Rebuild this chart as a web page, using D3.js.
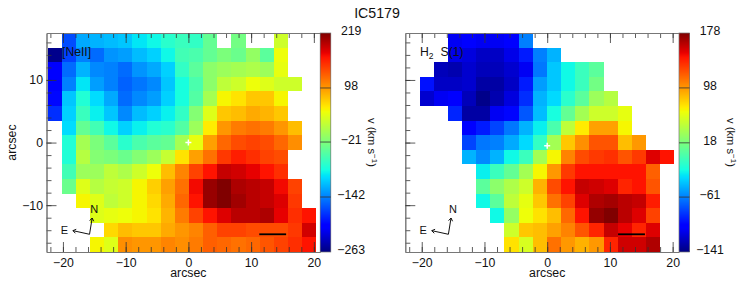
<!DOCTYPE html>
<html><head><meta charset="utf-8">
<style>html,body{margin:0;padding:0;background:#fff}svg{display:block}text{font-family:"Liberation Sans",sans-serif;fill:#111}</style>
<script src="https://cdn.jsdelivr.net/npm/d3@7/dist/d3.min.js"></script>
</head><body><svg id="c" width="747" height="285"></svg>
<script>
const title = "IC5179";
const xLabel = "arcsec", yLabel = "arcsec";
const neonTicks = [-263,-142,-21,98,219];
const h2Ticks = [-141,-61,18,98,178];
const _ = null;
// velocity maps, km/s, top row first
const neonVelocity = [
[_,-167,-123,-118,-114,-109,-94,-85,-70,-61,-65,-36,_,-27,_,_,26,_,_],
[-258,-171,-142,-152,-133,-128,-114,-104,-85,-56,-51,-36,-22,-32,-8,-41,45,_,_],
[-205,-152,-118,-138,-142,-152,-133,-123,-104,-65,-41,-12,-3,2,7,-3,41,_,_],
[-205,-142,-94,-128,-142,-157,-147,-138,-109,-80,-51,-12,17,26,45,36,26,26,_],
[-200,-109,-75,-99,-123,-152,-138,-128,-104,-80,-46,2,50,60,74,74,50,_,_],
[-181,-104,-61,-89,-109,-138,-114,-104,-89,-65,-17,36,74,79,89,84,74,_,_],
[_,-99,-36,-56,-85,-104,-89,-75,-70,-46,-3,55,99,113,118,113,99,79,_],
[_,-75,2,-22,-41,-70,-51,-41,-36,2,41,94,123,137,142,137,123,103,_],
[_,-75,12,-17,-22,-32,-17,-3,21,60,94,118,147,161,152,142,137,_,_],
[_,-56,-3,-3,17,7,26,45,79,108,142,166,190,185,176,166,152,_,_],
[_,-32,36,12,21,26,50,70,94,118,171,209,219,200,195,190,171,142,_],
[_,_,50,36,17,26,50,65,89,123,166,209,219,205,195,190,180,147,_],
[_,_,_,36,41,45,50,60,84,113,142,166,180,195,195,200,176,152,166],
[_,_,_,_,65,79,74,74,89,99,108,127,142,142,137,137,137,147,185],
[_,_,_,50,36,103,99,99,108,103,113,127,123,118,123,132,142,152,166]
];
const h2Velocity = [
[_,_,_,-109,-106,-109,-109,-103,-61,_,_,_,_,_,_,_,_,_,_],
[_,_,_,-112,-115,-122,-122,-112,-93,-61,-45,_,_,_,_,_,_,_,_],
[_,_,-125,-128,-119,-125,-125,-119,-109,-64,-39,-23,-7,6,_,_,_,_,_],
[_,-96,-122,-122,-119,-131,-131,-122,-93,-52,-39,-23,-7,15,_,_,_,_,_],
[_,-119,-109,-103,-125,-138,-128,-115,-87,-45,-33,-13,6,31,41,_,_,_,_],
[_,_,_,-90,-131,-131,-109,-100,-74,-42,-20,9,34,50,50,60,_,_,_],
[_,_,_,_,-106,-93,-80,-64,-45,-26,-1,44,70,95,95,66,_,_,_],
[_,_,_,_,-80,-64,-61,-48,-33,-10,34,82,101,121,121,85,98,_,_],
[_,_,_,_,-45,-58,-45,-23,-7,34,66,105,124,130,133,121,130,152,143],
[_,_,_,_,_,-26,-7,9,34,66,98,130,143,143,143,143,143,117,_],
[_,_,_,_,_,6,25,38,50,89,124,143,159,156,152,137,143,121,_],
[_,_,_,_,_,-23,6,44,60,82,111,127,152,165,168,162,159,140,_],
[_,_,_,_,_,_,-23,28,63,73,85,114,143,172,178,162,152,127,_],
[_,_,_,_,_,_,_,50,82,85,95,105,121,137,159,149,137,152,_],
[_,_,_,_,_,_,_,73,54,85,111,98,89,98,137,156,156,165,_]
];

const xDomain = [-22.62,20.98], yDomain = [17.5,-17.48];
const majorX = [-20,-10,0,10,20], minorX = d3.range(-22,21,2);
const majorY = [-10,0,10], minorY = d3.range(-16,17,2);
const cellW = 2.256, cellH = 2.332;

// jet colour table
const jetR = d3.scaleLinear().domain([0,.35,.66,.89,1]).range([0,0,1,1,.5]);
const jetG = d3.scaleLinear().domain([0,.125,.375,.64,.91,1]).range([0,0,1,1,0,0]);
const jetB = d3.scaleLinear().domain([0,.11,.34,.65,1]).range([.5,1,1,0,0]);
const jet = t => d3.rgb(jetR(t)*255,jetG(t)*255,jetB(t)*255).formatRgb();

const svg = d3.select("#c");
svg.append("text").attr("x",377).attr("y",18.3).attr("text-anchor","middle").style("font-size","14.2px").text(title);

function panel(o){
  const x = d3.scaleLinear().domain(xDomain).range(o.xr);
  const y = d3.scaleLinear().domain(yDomain).range([33,252]);
  const g = svg.append("g");
  const col = d3.scaleLinear().domain(d3.extent(o.ticks)).range([0,1]).clamp(true);
  const clipId = "clip"+o.xr[0];
  g.append("clipPath").attr("id",clipId).append("rect").attr("x",o.xr[0]).attr("y",33).attr("width",o.xr[1]-o.xr[0]).attr("height",219);
  const cells = [];
  o.data.forEach((row,r)=>row.forEach((v,c)=>{ if(v!==null) cells.push({r,c,v}); }));
  g.append("g").attr("clip-path",`url(#${clipId})`).attr("shape-rendering","crispEdges")
    .selectAll("rect").data(cells).join("rect")
    .attr("x",d=>x(o.gridX0+d.c*cellW))
    .attr("width",d=>x(o.gridX0+(d.c+1)*cellW)-x(o.gridX0+d.c*cellW))
    .attr("y",d=>y(yDomain[0]-d.r*cellH))
    .attr("height",d=>y(yDomain[0]-(d.r+1)*cellH)-y(yDomain[0]-d.r*cellH))
    .attr("fill",d=>jet(col(d.v)));

  // axes: ticks point inward
  const sty = s => { s.select(".domain").attr("stroke","#777").attr("stroke-width",1);
    s.selectAll(".tick line").attr("stroke","#333").attr("stroke-width",.8);
    s.selectAll("text").style("font-size","12.3px").style("font-family",'"Liberation Sans",sans-serif').attr("fill","#111"); };
  const fx = d=>d, none = ()=>"";
  g.append("g").attr("transform","translate(0,252)").call(d3.axisBottom(x).tickValues(minorX).tickSize(-5).tickSizeOuter(0).tickFormat(none)).call(sty);
  g.append("g").attr("transform","translate(0,252)").call(d3.axisBottom(x).tickValues(majorX).tickSize(-10).tickSizeOuter(0).tickPadding(6).tickFormat(d3.format("d"))).call(sty);
  g.append("g").attr("transform","translate(0,33)").call(d3.axisTop(x).tickValues(minorX).tickSize(-5).tickSizeOuter(0).tickFormat(none)).call(sty);
  g.append("g").attr("transform","translate(0,33)").call(d3.axisTop(x).tickValues(majorX).tickSize(-10).tickSizeOuter(0).tickFormat(none)).call(sty);
  g.append("g").attr("transform",`translate(${o.xr[0]},0)`).call(d3.axisLeft(y).tickValues(minorY).tickSize(-5).tickSizeOuter(0).tickFormat(none)).call(sty);
  g.append("g").attr("transform",`translate(${o.xr[0]},0)`).call(d3.axisLeft(y).tickValues(majorY).tickSize(-10).tickSizeOuter(0).tickPadding(3.5).tickFormat(o.yLabels?d3.format("d"):none)).call(sty);

  g.append("text").attr("x",x(0)).attr("y",277).attr("text-anchor","middle").style("font-size","12.3px").text(xLabel);
  if(o.yLabels) g.append("text").attr("transform",`translate(16,${y(0)}) rotate(-90)`).attr("text-anchor","middle").style("font-size","12.3px").text(yLabel);

  // nucleus marker
  const sx=x(0), sy=y(o.markY);
  g.append("path").attr("d",`M${sx-3},${sy}H${sx+3}M${sx},${sy-3}V${sy+3}`).attr("stroke","#fff").attr("stroke-width",1.5).attr("fill","none");

  // scale bar
  g.append("line").attr("x1",x(11.3)).attr("x2",x(15.58)).attr("y1",y(-14.65)).attr("y2",y(-14.65)).attr("stroke","#000").attr("stroke-width",1.8);

  // compass
  const ox=x(o.compass[0]), oy=y(o.compass[1]);
  const nx=x(o.compass[0]+.42), ny=y(o.compass[1]+2.6), ex=x(o.compass[0]-2.65), ey=y(o.compass[1]+.58);
  const arrow=(tx,ty)=>{const a=Math.atan2(ty-oy,tx-ox),l=3.6,s=.6;
    return `M${ox},${oy}L${tx},${ty}M${tx-l*Math.cos(a-s)},${ty-l*Math.sin(a-s)}L${tx},${ty}L${tx-l*Math.cos(a+s)},${ty-l*Math.sin(a+s)}`;};
  g.append("path").attr("d",arrow(nx,ny)+arrow(ex,ey)).attr("fill","none").attr("stroke","#111").attr("stroke-width",1);
  g.append("text").attr("x",nx+2).attr("y",ny-5.5).attr("text-anchor","middle").style("font-size","11px").text("N");
  g.append("text").attr("x",ex-8.5).attr("y",ey+3.6).attr("text-anchor","middle").style("font-size","11px").text("E");

  // line label
  const lab=g.append("text").attr("x",o.labX).attr("y",55.5).style("font-size","12.2px");
  o.label(lab);

  // colour bar
  const cb=o.cb, v=d3.scaleLinear().domain(d3.extent(o.ticks)).range([252,33]);
  const steps=d3.range(0,219);
  g.append("g").attr("shape-rendering","crispEdges").selectAll("rect").data(steps).join("rect")
    .attr("x",cb).attr("width",10.6).attr("y",d=>33+d).attr("height",1.2).attr("fill",d=>jet(1-(d+.5)/219));
  g.append("rect").attr("x",cb).attr("y",33).attr("width",10.6).attr("height",219).attr("fill","none").attr("stroke","#777").attr("stroke-width",.7);
  g.append("g").selectAll("line").data(o.ticks.slice(1,-1)).join("line")
    .attr("x1",cb).attr("x2",cb+10.6).attr("y1",d=>v(d)).attr("y2",d=>v(d)).attr("stroke","#333").attr("stroke-width",.8);
  g.append("g").selectAll("text").data(o.ticks).join("text")
    .attr("x",cb+31).attr("y",d=>v(d)+2.4).attr("text-anchor","middle").style("font-size","12.3px")
    .text(d=>d3.format("d")(d));
  const vl=g.append("text").attr("transform",`translate(${cb+48},142.5) rotate(90)`).attr("text-anchor","middle").style("font-size","11.2px");
  vl.append("tspan").text("v (km s");
  vl.append("tspan").attr("dy",-4).style("font-size","8px").text("−1");
  vl.append("tspan").attr("dy",4).text(")");
}

panel({xr:[46.5,320],data:neonVelocity,ticks:neonTicks,gridX0:-22.46,yLabels:true,markY:0,cb:320.2,
  compass:[-15.76,-14.65],labX:62,label:t=>t.text("[NeII]")});
panel({xr:[405.3,678.8],data:h2Velocity,ticks:h2Ticks,gridX0:-22.6,yLabels:false,markY:-0.5,cb:679,
  compass:[-15.75,-14.65],labX:420,label:t=>{t.append("tspan").text("H");
    t.append("tspan").attr("dy",3).style("font-size","8.5px").text("2");
    t.append("tspan").attr("dy",-3).attr("dx",7).text("S(1)");}});
</script></body></html>
